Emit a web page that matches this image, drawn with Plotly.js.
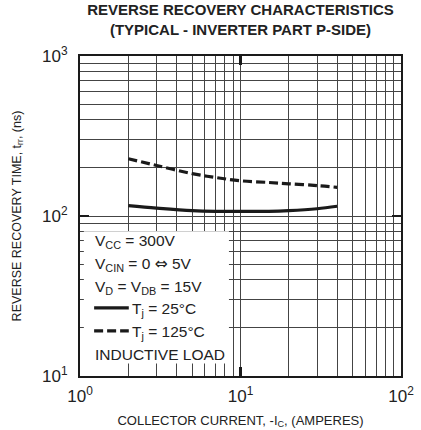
<!DOCTYPE html>
<html>
<head>
<meta charset="utf-8">
<script src="https://cdn.plot.ly/plotly-3.0.1.min.js"></script>
<style>html,body{margin:0;padding:0;background:#fff;}#chart{width:421px;height:430px;}</style>
</head>
<body>
<div id="chart"></div>
<script>
// Collector current (A)
const current = [2, 3, 5, 7, 10, 15, 20, 30, 40];
// Reverse recovery time trr (ns) at Tj = 25°C
const trr25 = [116, 112, 108, 107, 107, 107, 108, 111, 115];
// Reverse recovery time trr (ns) at Tj = 125°C
const trr125 = [228, 207, 184, 174, 166, 162, 159, 155, 151];

const xGridVals = [1,2,3,4,5,6,7,8,9,10,20,30,40,50,60,70,80,90,100];
const yGridVals = [10,20,30,40,50,60,70,80,90,100,200,300,400,500,600,700,800,900,1000];
function decadeLabels(vals) {
  return vals.map(v => {
    const e = Math.log10(v);
    return Math.abs(e - Math.round(e)) < 1e-9 ? '10<sup>' + Math.round(e) + '</sup>' : '';
  });
}
const xMajor = [1, 10, 100];
const yMajor = [10, 100, 1000];

const legendLines = [
  'V<sub>CC</sub> = 300V',
  'V<sub>CIN</sub> = 0 <span style="font-family:DejaVu Sans">\u21D4</span> 5V',
  'V<sub>D</sub> = V<sub>DB</sub> = 15V'
];

const font = 'Liberation Sans, Arial, sans-serif';
const gridColor = '#444';
const ink = '#1a1a1a';

const traces = [
  {x: current, y: trr25, mode: 'lines', line: {color: ink, width: 3.2, shape: 'spline'}, hoverinfo: 'skip'},
  {x: current, y: trr125, mode: 'lines', line: {color: ink, width: 3.2, dash: '9px,4px', shape: 'spline'}, hoverinfo: 'skip'},
  {x: current, y: trr25, xaxis: 'x2', yaxis: 'y2', mode: 'markers', marker: {opacity: 0}, hoverinfo: 'skip'}
];

function gridAxis(vals, range) {
  return {
    type: 'log', range: range, tickmode: 'array', tickvals: vals, ticktext: decadeLabels(vals),
    ticks: '', showline: true, linecolor: ink, linewidth: 2, mirror: true,
    showgrid: true, gridcolor: gridColor, gridwidth: 1,
    tickfont: {family: font, size: 17, color: '#222'}, ticklabelstandoff: 4,
    zeroline: false, fixedrange: true
  };
}
function tickAxis(major, range, overlay, anchor) {
  return {
    type: 'log', range: range, tickmode: 'array', tickvals: major, showticklabels: false,
    ticks: 'inside', ticklen: 9, tickwidth: 2.5, tickcolor: ink,
    showline: false, mirror: 'ticks', showgrid: false, zeroline: false,
    overlaying: overlay, anchor: anchor, fixedrange: true
  };
}

const xaxis = gridAxis(xGridVals, [0, 2]);
xaxis.title = {text: 'COLLECTOR CURRENT, -I<sub>C</sub>, (AMPERES)', font: {family: font, size: 13, color: '#222'}, standoff: 10};
const yaxis = gridAxis(yGridVals, [1, 3]);
yaxis.ticklabelstandoff = 7;
yaxis.title = {text: 'REVERSE RECOVERY TIME, t<sub>rr</sub>, (ns)', font: {family: font, size: 12.5, color: '#222'}, standoff: 18};

const annY = [0.419, 0.349, 0.277];
const legFont = {family: font, size: 15.5, color: '#222'};
const annotations = legendLines.map((t, i) => ({
  xref: 'paper', yref: 'paper', x: 0.042, y: annY[i], xanchor: 'left', yanchor: 'middle',
  text: t, showarrow: false, font: legFont
}));
annotations.push(
  {xref: 'paper', yref: 'paper', x: 0.156, y: 0.208, xanchor: 'left', yanchor: 'middle', text: 'T<sub>j</sub> = 25°C', showarrow: false, font: legFont},
  {xref: 'paper', yref: 'paper', x: 0.156, y: 0.136, xanchor: 'left', yanchor: 'middle', text: 'T<sub>j</sub> = 125°C', showarrow: false, font: legFont},
  {xref: 'paper', yref: 'paper', x: 0.042, y: 0.067, xanchor: 'left', yanchor: 'middle', text: 'INDUCTIVE LOAD', showarrow: false, font: legFont}
);

const shapes = [
  {type: 'rect', xref: 'paper', yref: 'paper', x0: 0.012, x1: 0.464, y0: 0.039, y1: 0.452, fillcolor: '#fff', line: {width: 0}, layer: 'above'},
  {type: 'line', xref: 'paper', yref: 'paper', x0: 0.044, x1: 0.152, y0: 0.213, y1: 0.213, line: {color: ink, width: 3.2}, layer: 'above'},
  {type: 'line', xref: 'paper', yref: 'paper', x0: 0.044, x1: 0.152, y0: 0.141, y1: 0.141, line: {color: ink, width: 3.2, dash: '9px,4px'}, layer: 'above'}
];

const layout = {
  width: 421, height: 430,
  margin: {l: 80, r: 20, t: 56, b: 54},
  paper_bgcolor: '#fff', plot_bgcolor: '#fff',
  title: {text: '<b>REVERSE RECOVERY CHARACTERISTICS<br>(TYPICAL - INVERTER PART P-SIDE)</b>', font: {family: font, size: 15, color: '#222'}, x: 0.5, xref: 'paper', xanchor: 'center', yref: 'container', y: 0.964, yanchor: 'middle'},
  xaxis: xaxis, yaxis: yaxis,
  xaxis2: tickAxis(xMajor, [0, 2], 'x', 'y'),
  yaxis2: tickAxis(yMajor, [1, 3], 'y', 'x'),
  annotations: annotations, shapes: shapes,
  showlegend: false
};

Plotly.newPlot('chart', traces, layout, {staticPlot: true, displayModeBar: false});
</script>
</body>
</html>
